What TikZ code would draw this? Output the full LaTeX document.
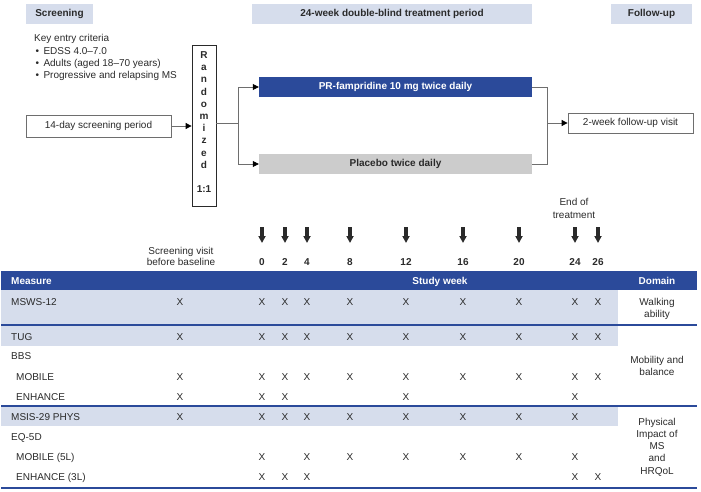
\documentclass[tikz,border=0pt]{standalone}
\usepackage{fontspec}
\setmainfont{Liberation Sans}
\usetikzlibrary{arrows.meta}
\definecolor{hdrblue}{HTML}{2B4A9A}
\definecolor{lightblue}{HTML}{D6DDEC}
\definecolor{txt}{HTML}{2A2A2A}
\definecolor{conn}{HTML}{6E6E6E}
\definecolor{plgray}{HTML}{CCCCCC}
\tikzset{
  cell/.style={inner sep=0pt, text height=7.2pt, text depth=0pt, text=txt, font=\fontsize{10}{12}\selectfont},
  bcell/.style={cell, font=\fontsize{10}{12}\selectfont\bfseries},
  multi/.style={inner sep=0pt, align=center, text=txt},
  phase/.style={fill=lightblue, inner sep=0pt, text=txt, font=\fontsize{10}{12}\selectfont\bfseries},
  wbox/.style={draw=conn, line width=0.8pt, fill=white, inner sep=0pt, text=txt, font=\fontsize{10}{12}\selectfont},
  conline/.style={draw=conn, line width=0.8pt},
  conarrow/.style={conline, -{Triangle[length=6pt,width=6pt,color=black]}},
  visit/.style={line width=3.6pt, txt, -{Triangle[length=7pt,width=7pt]}},
  hline/.style={draw=hdrblue, line width=1.2pt},
}
\begin{document}
\begin{tikzpicture}[x=1pt,y=-1pt]
\useasboundingbox (0,0) rectangle (701,492);
% phase headers
\node[phase, minimum width=67, minimum height=20] (ph1) at (59.5,14) {Screening};
\node[phase, minimum width=280, minimum height=20] (ph2) at (392,14) {24-week double-blind treatment period};
\node[phase, minimum width=81, minimum height=20] (ph3) at (651.5,14) {Follow-up};
% criteria
\node[cell, anchor=west] (kec) at (34,38) {Key entry criteria};
\node[cell, anchor=west] (c1) at (35.5,50.5) {•\hspace{4.3pt}EDSS 4.0–7.0};
\node[cell, anchor=west] (c2) at (35.5,62.5) {•\hspace{4.3pt}Adults (aged 18–70 years)};
\node[cell, anchor=west] (c3) at (35.5,75) {•\hspace{4.3pt}Progressive and relapsing MS};
% flow boxes
\node[wbox, minimum width=145, minimum height=22] (scr) at (98.5,126) {14-day screening period};
\node[draw=txt, line width=0.8pt, minimum width=24, minimum height=161, inner sep=0pt] (rand) at (204,125.5) {};
\node[inner sep=0pt, anchor=north, align=center, text=txt, font=\fontsize{10}{12.2}\selectfont\bfseries] (randtxt) at (204,51.5) {R\\a\\n\\d\\o\\m\\i\\z\\e\\d\\[12.2pt]1:1};
\node[fill=hdrblue, minimum width=273, minimum height=20, inner sep=0pt, text=white, font=\fontsize{10}{12}\selectfont\bfseries] (pr) at (395.5,87) {PR-fampridine 10 mg twice daily};
\node[fill=plgray, minimum width=273, minimum height=20, inner sep=0pt, text=txt, font=\fontsize{10}{12}\selectfont\bfseries] (pl) at (395.5,164) {Placebo twice daily};
\node[wbox, minimum width=125, minimum height=20] (fu) at (630.5,123) {2-week follow-up visit};
% connectors
\coordinate (split) at (238,123);
\coordinate (join) at (547,123);
\draw[conarrow] (scr.east) -- (scr.east -| rand.west);
\draw[conline] (split -| rand.east) -- (split);
\draw[conarrow] (split) |- (pr.west);
\draw[conarrow] (split) |- (pl.west);
\draw[conline] (pr.east) -| (join);
\draw[conline] (pl.east) -| (join);
\draw[conarrow] (join) -- (fu.west);
% visit arrows and week numbers
\foreach \x/\w in {262/0,285/2,307/4,350/8,406/12,463/16,519/20,575/24,598/26}{
  \draw[visit] (\x,227) -- (\x,243);
  \node[bcell] (wk-\w) at (\x,262) {\w};
}
\node[multi, font=\fontsize{10}{11.3}\selectfont] (scrvis) at (181,256.5) {Screening visit\\before baseline};
\node[multi, font=\fontsize{10}{12.5}\selectfont] (eot) at (574,208.5) {End of\\treatment};
% table shading
\fill[lightblue] (1,290) rectangle (618,324.5);
\fill[lightblue] (1,326) rectangle (618,346);
\fill[lightblue] (1,407) rectangle (618,426);
\fill[hdrblue] (1,271) rectangle (697,290);
\node[bcell, text=white, anchor=west] (hm) at (11,280.5) {Measure};
\node[bcell, text=white] (hs) at (440,280.5) {Study week};
\node[bcell, text=white] (hd) at (657,280.5) {Domain};
\draw[hline] (1,325) -- (697,325);
\draw[hline] (1,406) -- (697,406);
\draw[draw=hdrblue, line width=2pt] (1,487.5) -- (697,487.5);
% row labels
\foreach \y/\lx/\lab [count=\i] in {302/11/MSWS-12, 337/11/TUG, 356/11/BBS, 377/16/MOBILE, 397/16/ENHANCE, 417/11/MSIS-29 PHYS, 437/11/EQ-5D, 457/16/MOBILE (5L), 477/16/ENHANCE (3L)}{
  \node[cell, anchor=west] (lab-\i) at (\lx,\y) {\lab};
}
% X marks
\foreach \y/\cols [count=\r] in {302/{180,262,285,307,350,406,463,519,575,598},
  337/{180,262,285,307,350,406,463,519,575,598},
  377/{180,262,285,307,350,406,463,519,575,598},
  397/{180,262,285,406,575},
  417/{180,262,285,307,350,406,463,519,575},
  457/{262,307,350,406,463,519,575},
  477/{262,285,307,575,598}}{
  \foreach \x [count=\c] in \cols {
    \node[cell] (x-\r-\c) at (\x,\y) {X};
  }
}
% domains
\node[multi, font=\fontsize{10}{12}\selectfont] (d1) at (657,309) {Walking\\ability};
\node[multi, font=\fontsize{10}{12}\selectfont] (d2) at (657,366) {Mobility and\\balance};
\node[multi, font=\fontsize{10}{12.3}\selectfont] (d3) at (657,447) {Physical\\Impact of\\MS\\and\\HRQoL};
\end{tikzpicture}
\end{document}
